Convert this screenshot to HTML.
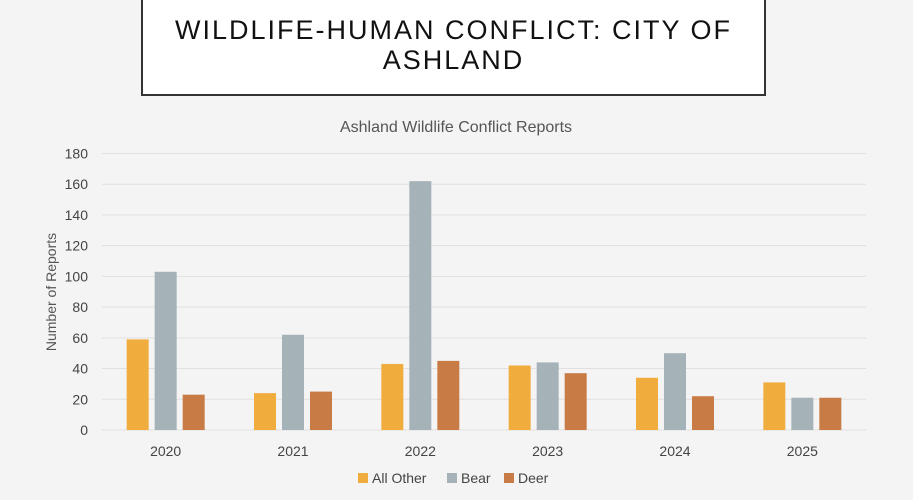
<!DOCTYPE html>
<html><head><meta charset="utf-8"><style>
body{margin:0;width:913px;height:500px;background:#f4f4f4;font-family:"Liberation Sans",sans-serif;overflow:hidden;position:relative}
#title{position:absolute;left:141px;top:-4px;width:625px;height:100px;border:2px solid #333;border-top:none;background:#fff;text-align:center;font-size:27px;line-height:30px;letter-spacing:2px;color:#111;padding-top:19px;box-sizing:border-box}
svg{position:absolute;left:0;top:0}
</style></head><body>
<div id="title">WILDLIFE-HUMAN CONFLICT: CITY OF<br>ASHLAND</div>
<svg id="chart" width="913" height="500"></svg>
<script>
const categories=["2020","2021","2022","2023","2024","2025"];
const seriesNames=["All Other","Bear","Deer"];
const allOther=[59,24,43,42,34,31];
const bear=[103,62,162,44,50,21];
const deer=[23,25,45,37,22,21];
const yTicks=[0,20,40,60,80,100,120,140,160,180];
const colors=["#f0ad3e","#a5b3b8","#c97b45"];
const svg=document.getElementById('chart');const NS="http://www.w3.org/2000/svg";
function mk(t,a,txt){const e=document.createElementNS(NS,t);for(const k in a)e.setAttribute(k,a[k]);if(txt!==undefined)e.textContent=txt;svg.appendChild(e);return e;}
const x0=102,x1=866,y0=430,yTop=153.5,ymax=180;
const y=v=>y0-(v/ymax)*(y0-yTop);
const gw=(x1-x0)/categories.length;
const xc=i=>x0+gw*(i+0.5);
let t=mk('text',{x:456,y:132,'text-anchor':'middle','font-size':16,fill:'#555'},'Ashland Wildlife Conflict Reports');


yTicks.forEach(v=>{
 const l=mk('line',{x1:x0,x2:x1,y1:y(v),y2:y(v),stroke:'#e0e0e0','stroke-width':1});
 
 
 const tx=mk('text',{x:88,y:y(v)+5,'text-anchor':'end','font-size':14,fill:'#444'},v);
 
 
});
const yt=mk('text',{x:0,y:0,transform:'translate(56,292) rotate(-90)','text-anchor':'middle','font-size':14,fill:'#555'},'Number of Reports');


const series=[allOther,bear,deer];
categories.forEach((c,i)=>{
 series.forEach((s,j)=>{
  const bx=xc(i)+(j-1)*28-11;
  const r=mk('rect',{x:bx,y:y(s[i]),width:22,height:y0-y(s[i]),fill:colors[j]});
  
  
 });
 const lb=mk('text',{x:xc(i),y:456,'text-anchor':'middle','font-size':14,fill:'#444'},c);
 
 
});
const legX=[358,447,504];
seriesNames.forEach((n,j)=>{
 const r=mk('rect',{x:legX[j],y:473,width:10,height:10,fill:colors[j]});
 
 
 const tx=mk('text',{x:legX[j]+14,y:483,'font-size':14,fill:'#444'},n);
 
 
});
</script>
</body></html>
